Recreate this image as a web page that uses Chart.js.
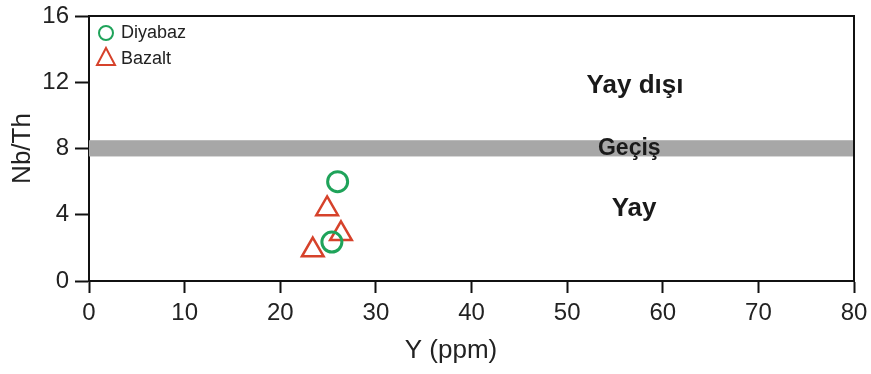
<!DOCTYPE html>
<html>
<head>
<meta charset="utf-8">
<script src="https://cdn.jsdelivr.net/npm/chart.js@4/dist/chart.umd.min.js"></script>
<style>
  html, body { margin: 0; padding: 0; background: #fff; }
  #wrap { width: 871px; height: 374px; }
</style>
</head>
<body>
<div id="wrap"><canvas id="c" width="871" height="374"></canvas></div>
<script>
// values (Y ppm, Nb/Th)
var diyabazY = [26.0, 25.4];
var diyabazNbTh = [6.0, 2.35];
var bazaltY = [24.9, 26.35, 23.4];
var bazaltNbTh = [4.35, 2.85, 1.87];

var xTicks = [0, 10, 20, 30, 40, 50, 60, 70, 80];
var yTicks = [0, 4, 8, 12, 16];

// transition band and field labels
var gecisBand = [7.52, 8.5];
var fieldLabels = ['Yay dışı', 'Geçiş', 'Yay'];
var fieldLabelX = [57.1, 56.5, 57.0];
var fieldLabelY = [11.8, 8.0, 4.35];

var GREEN = '#1fa35a';
var RED = '#d6422b';
var FONT = '"Liberation Sans", Arial, sans-serif';

function toPoints(xs, ys) {
  return xs.map(function(x, i) { return {x: x, y: ys[i]}; });
}

// keep tick labels from pushing the plot box inwards
function noMargins(s) {
  s.paddingTop = 0; s.paddingBottom = 0;
  s.paddingLeft = 0; s.paddingRight = 0;
}

var bandPlugin = {
  id: 'band',
  beforeDatasetsDraw: function(chart) {
    var ctx = chart.ctx, a = chart.chartArea, ys = chart.scales.y;
    var top = ys.getPixelForValue(gecisBand[1]);
    var bot = ys.getPixelForValue(gecisBand[0]);
    ctx.save();
    ctx.fillStyle = '#a7a7a7';
    ctx.fillRect(a.left, top, a.right - a.left, bot - top);
    ctx.fillStyle = '#1a1a1a';
    ctx.textAlign = 'center';
    ctx.textBaseline = 'middle';
    var sizes = [26, 23, 26];
    fieldLabels.forEach(function(t, i) {
      ctx.font = 'bold ' + sizes[i] + 'px ' + FONT;
      ctx.fillText(t, chart.scales.x.getPixelForValue(fieldLabelX[i]), ys.getPixelForValue(fieldLabelY[i]));
    });
    ctx.restore();
  },
  afterDraw: function(chart) {
    var ctx = chart.ctx, a = chart.chartArea;
    ctx.save();
    ctx.strokeStyle = '#111';
    ctx.lineWidth = 2;
    ctx.beginPath();
    ctx.moveTo(a.left, a.top);
    ctx.lineTo(a.right, a.top);
    ctx.lineTo(a.right, a.bottom);
    ctx.stroke();

    // x title sits left of the plot centre in the original
    ctx.fillStyle = '#222';
    ctx.font = '26px ' + FONT;
    ctx.textAlign = 'center';
    ctx.textBaseline = 'middle';
    ctx.fillText('Y (ppm)', 451, 351);

    // legend in the upper-left corner of the plot
    var lx = a.left + 17;
    ctx.lineWidth = 2;
    ctx.strokeStyle = GREEN;
    ctx.beginPath();
    ctx.arc(lx, 33, 7, 0, Math.PI * 2);
    ctx.stroke();
    ctx.strokeStyle = RED;
    ctx.beginPath();
    ctx.moveTo(lx, 48);
    ctx.lineTo(lx + 9, 65);
    ctx.lineTo(lx - 9, 65);
    ctx.closePath();
    ctx.stroke();
    ctx.font = '18px ' + FONT;
    ctx.textAlign = 'left';
    ctx.fillText('Diyabaz', lx + 15, 33);
    ctx.fillText('Bazalt', lx + 15, 59);
    ctx.restore();
  }
};

new Chart(document.getElementById('c'), {
  type: 'scatter',
  data: {
    datasets: [{
      label: 'Diyabaz',
      data: toPoints(diyabazY, diyabazNbTh),
      pointStyle: 'circle',
      pointRadius: 10,
      pointHoverRadius: 10,
      borderWidth: 3,
      borderColor: GREEN,
      backgroundColor: 'rgba(0,0,0,0)'
    }, {
      label: 'Bazalt',
      data: toPoints(bazaltY, bazaltNbTh),
      pointStyle: 'triangle',
      pointRadius: 12.5,
      pointHoverRadius: 12.5,
      borderWidth: 2.5,
      borderColor: RED,
      backgroundColor: 'rgba(0,0,0,0)'
    }]
  },
  options: {
    responsive: false,
    animation: false,
    layout: { padding: { left: 0, top: 16, right: 17, bottom: 0 } },
    plugins: { legend: { display: false }, tooltip: { enabled: false } },
    scales: {
      x: {
        type: 'linear',
        min: 0, max: 80,
        afterFit: function(s) { s.height = 93; noMargins(s); },
        afterBuildTicks: function(s) { s.ticks = xTicks.map(function(v) { return {value: v}; }); },
        border: { display: true, color: '#111', width: 2 },
        grid: { drawOnChartArea: false, drawTicks: true, tickLength: 12, tickColor: '#111', tickWidth: 2 },
        ticks: { color: '#222', font: { family: FONT, size: 24 }, padding: 6, maxRotation: 0 },
        title: { display: false }
      },
      y: {
        type: 'linear',
        min: 0, max: 16,
        afterFit: function(s) { s.width = 89; noMargins(s); },
        afterBuildTicks: function(s) { s.ticks = yTicks.map(function(v) { return {value: v}; }); },
        border: { display: true, color: '#111', width: 2 },
        grid: { drawOnChartArea: false, drawTicks: true, tickLength: 14, tickColor: '#111', tickWidth: 2 },
        ticks: { color: '#222', font: { family: FONT, size: 24 }, padding: 6 },
        title: { display: true, text: 'Nb/Th', color: '#222', font: { family: FONT, size: 26 }, padding: 7 }
      }
    }
  },
  plugins: [bandPlugin]
});
</script>
</body>
</html>
